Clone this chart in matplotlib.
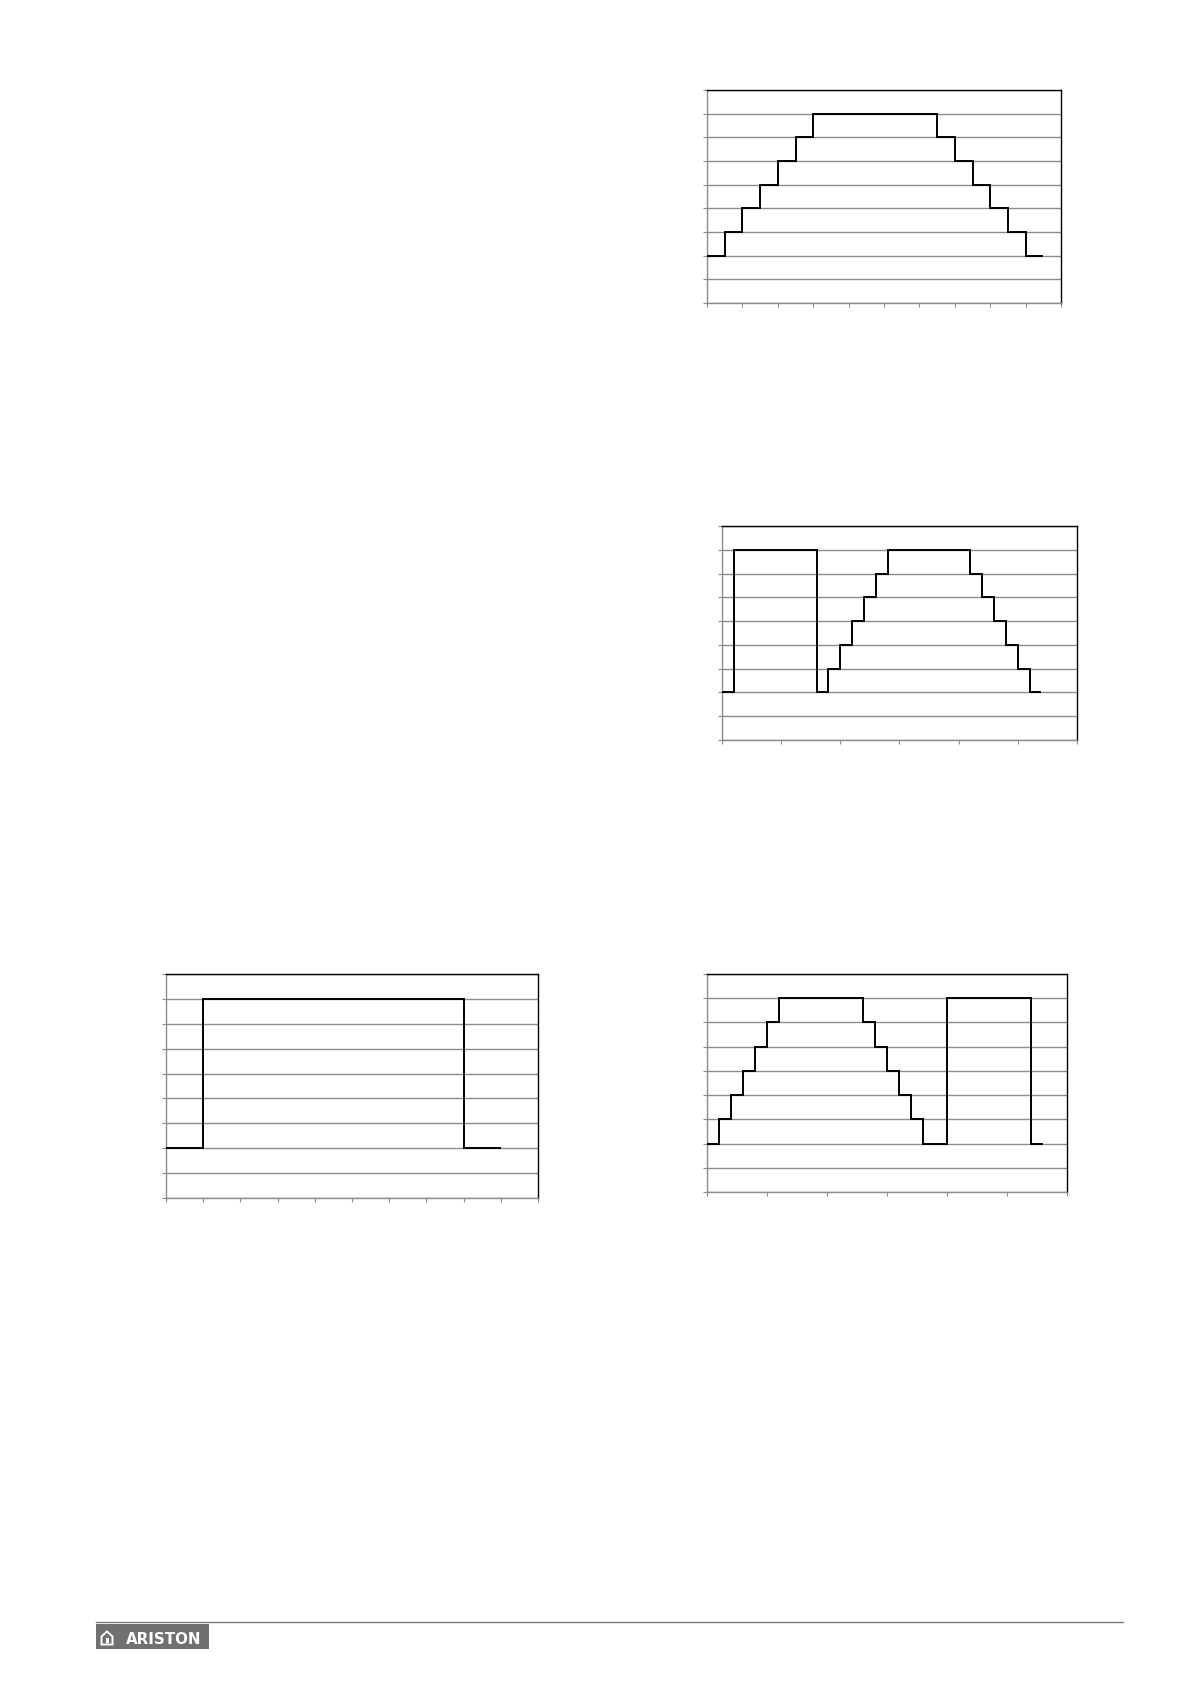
import numpy as np
import matplotlib
matplotlib.use("Agg")
import matplotlib.pyplot as plt
from matplotlib.patches import Rectangle, Polygon

# ---- data (step levels per x-segment) ----
chart1_levels = [2, 3, 4, 5, 6, 7, 8, 8, 8, 8, 8, 8, 8, 7, 6, 5, 4, 3, 2]
chart1_xmax = 20
chart1_xticks = list(range(0, 21, 2))

chart2_levels = [2, 8, 8, 8, 8, 8, 8, 8, 2, 3, 4, 5, 6, 7,
                 8, 8, 8, 8, 8, 8, 8, 7, 6, 5, 4, 3, 2]
chart2_xmax = 30
chart2_xticks = list(range(0, 31, 5))

chart3_levels = [2, 8, 8, 8, 8, 8, 8, 8, 2]
chart3_xmax = 10
chart3_xticks = list(range(0, 11, 1))

chart4_levels = [2, 3, 4, 5, 6, 7, 8, 8, 8, 8, 8, 8, 8, 7, 6, 5, 4, 3, 2, 2,
                 8, 8, 8, 8, 8, 8, 8, 2]
chart4_xmax = 30
chart4_xticks = list(range(0, 31, 5))

y_max = 9
y_ticks = list(range(0, 10))

logo_text = "ARISTON"

W, H = 1190, 1684
fig = plt.figure(figsize=(W / 100, H / 100), dpi=100)
fig.patch.set_facecolor("white")


def add_axes_px(left, right, top, bottom):
    return fig.add_axes([left / W, 1 - bottom / H, (right - left) / W, (bottom - top) / H])


def draw(ax, levels, xmax, xticks):
    edges = np.arange(len(levels) + 1)
    ax.stairs(levels, edges, baseline=None, color="black", lw=1.4, zorder=3)
    ax.set_xlim(0, xmax)
    ax.set_ylim(0, y_max)
    ax.set_yticks(y_ticks)
    ax.set_xticks(xticks)
    ax.set_xticklabels([])
    ax.set_yticklabels([])
    ax.grid(axis="y", color="#8c8c8c", lw=1.0, zorder=1)
    ax.tick_params(axis="both", direction="out", length=3, width=0.8, color="#8c8c8c")
    for s in ("left", "bottom"):
        ax.spines[s].set_color("#8c8c8c")
        ax.spines[s].set_linewidth(1.0)
    for s in ("top", "right"):
        ax.spines[s].set_color("black")
        ax.spines[s].set_linewidth(1.0)


ax1 = add_axes_px(707, 1061, 90, 303)
draw(ax1, chart1_levels, chart1_xmax, chart1_xticks)

ax2 = add_axes_px(722, 1077, 526, 740)
draw(ax2, chart2_levels, chart2_xmax, chart2_xticks)

ax3 = add_axes_px(166, 538, 974, 1198)
draw(ax3, chart3_levels, chart3_xmax, chart3_xticks)

ax4 = add_axes_px(707, 1067, 974, 1192)
draw(ax4, chart4_levels, chart4_xmax, chart4_xticks)

# ---- footer: rule line and logo ----
fig.add_artist(plt.Line2D([96 / W, 1123 / W], [1 - 1622 / H, 1 - 1622 / H],
                          color="#777777", lw=1.0))
fig.add_artist(Rectangle((96 / W, 1 - 1649 / H), (209 - 96) / W, (1649 - 1623.5) / H,
                         facecolor="#707070", edgecolor="none"))
# house icon
hx = 107.0
house = Polygon([((hx - 5.5) / W, 1 - 1644.5 / H), ((hx + 5.5) / W, 1 - 1644.5 / H),
                 ((hx + 5.5) / W, 1 - 1636.5 / H), (hx / W, 1 - 1631.5 / H),
                 ((hx - 5.5) / W, 1 - 1636.5 / H)], closed=True,
                facecolor="none", edgecolor="white", lw=1.4)
fig.add_artist(house)
fig.add_artist(Rectangle(((hx - 1.5) / W, 1 - 1643 / H), 3 / W, 5 / H,
                         facecolor="white", edgecolor="none"))
fig.text(126 / W, 1 - 1644 / H, logo_text, color="white", fontsize=10.8,
         fontweight="bold", family="DejaVu Sans", va="baseline", ha="left")

fig.savefig("out.png", dpi=100, facecolor="white")
